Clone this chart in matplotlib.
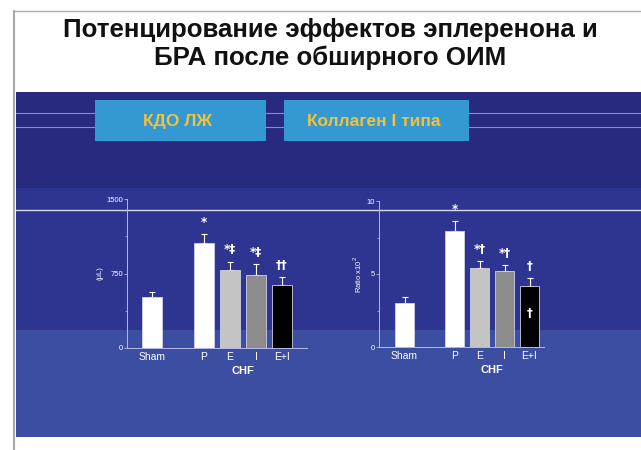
import numpy as np
import matplotlib
matplotlib.use('Agg')
import matplotlib.pyplot as plt
from matplotlib.patches import Rectangle
from matplotlib.lines import Line2D

plt.rcParams['font.family'] = ['Liberation Sans', 'DejaVu Sans']

W, H = 641, 450

# data
groups = ['Sham', 'P', 'E', 'I', 'E+I']
xpos = [0, 2, 3, 4, 5]
bar_colors = ['white', 'white', '#c4c4c4', '#8c8c8c', 'black']

kdo_vals = [516, 1060, 785, 735, 634]
kdo_err = [48, 85, 84, 110, 78]
kdo_marks = ['', '*', '*‡', '*‡', '††']

col_vals = [3.03, 7.95, 5.43, 5.23, 4.18]
col_err = [0.37, 0.70, 0.46, 0.37, 0.52]
col_marks = ['', '*', '*†', '*†', '†']

title_lines = ['Потенцирование эффектов эплеренона и', 'БРА после обширного ОИМ']
box_titles = ['КДО ЛЖ', 'Коллаген I типа']

fig = plt.figure(figsize=(W / 100, H / 100), dpi=100)
fig.patch.set_facecolor('white')


def fx(px):
    return px / W


def fy(py):
    return 1 - py / H


def rect(x0, y0, x1, y1, color, z=0):
    fig.patches.append(Rectangle((fx(x0), fy(y1)), fx(x1) - fx(x0), fy(y0) - fy(y1),
                                 transform=fig.transFigure, facecolor=color,
                                 edgecolor='none', zorder=z))


def hline(y, x0, x1, color, lw=1.0, z=1):
    fig.lines.append(Line2D([fx(x0), fx(x1)], [fy(y), fy(y)], transform=fig.transFigure,
                            color=color, lw=lw, zorder=z))


# slide frame
fig.lines.append(Line2D([fx(14), fx(14)], [fy(11), fy(450)], transform=fig.transFigure,
                        color='#a8a8a8', lw=1.5))
hline(11, 14, 641, '#b0b0b0', 1.0)

# title
fig.text(fx(330), fy(30), title_lines[0], ha='center', va='center', fontsize=18.6,
         fontweight='bold', color='#111111')
fig.text(fx(330), fy(58), title_lines[1], ha='center', va='center', fontsize=18.6,
         fontweight='bold', color='#111111')

# blue panel
rect(16, 92, 641, 188, '#272a7e')
rect(16, 188, 641, 330, '#2d3591')
rect(16, 330, 641, 437, '#3b4ea1')
hline(113, 16, 641, '#8a8ad0', 0.8)
hline(127, 16, 641, '#8a8ad0', 0.8)
hline(210, 16, 641, '#d8d8f0', 1.0, z=3)

# title boxes
for (x0, x1), txt in zip([(95, 266), (284, 469)], box_titles):
    rect(x0, 100, x1, 141, '#3499d2', z=2)
    fig.text(fx((x0 + x1) / 2 - 3), fy(121), txt, ha='center', va='center', fontsize=12.5,
             fontweight='bold', color='#f2c23c', zorder=4)


def draw_panel(ax_px, ylim, xlim, vals, errs, marks, yticks, ylabel, inner_mark=None):
    x0, x1, y0, ytop = ax_px
    ax = fig.add_axes([fx(x0), fy(y0), fx(x1) - fx(x0), fy(ytop) - fy(y0)])
    ax.set_zorder(5)
    ax.set_facecolor('none')
    ax.bar(xpos, vals, width=0.76, color=bar_colors, edgecolor='#d0d0e0', lw=0.6, zorder=3)
    ax.errorbar(xpos, vals, yerr=[np.zeros(len(vals)), errs], fmt='none', ecolor='white',
                elinewidth=0.8, capsize=2, capthick=0.8, zorder=2)
    for x, v, e, m in zip(xpos, vals, errs, marks):
        if m:
            ax.text(x, v + e + (ylim[1] * 0.035), m, ha='center', va='bottom', color='white',
                    fontsize=8.5, fontweight='bold', family=['DejaVu Sans'])
    if inner_mark is not None:
        ax.text(xpos[4], vals[4] * 0.55, inner_mark, ha='center', va='center', color='white',
                fontsize=8.5, fontweight='bold', zorder=4, family=['DejaVu Sans'])
    ax.set_xlim(*xlim)
    ax.set_ylim(*ylim)
    ax.set_yticks(yticks)
    ax.set_yticks([yticks[0] + (yticks[1] - yticks[0]) * k / 2 for k in range(5)], minor=True)
    ax.set_xticks(xpos)
    ax.set_xticklabels(groups)
    for s in ['top', 'right']:
        ax.spines[s].set_visible(False)
    for s in ['left', 'bottom']:
        ax.spines[s].set_color('#b8b8e8')
        ax.spines[s].set_linewidth(0.7)
    ax.tick_params(axis='y', colors='#b8b8e8', labelcolor='white', labelsize=5.5,
                   length=2, width=0.6, pad=1)
    ax.tick_params(axis='y', which='minor', colors='#b8b8e8', length=1.5, width=0.5)
    ax.tick_params(axis='x', length=0, labelcolor='white', labelsize=7.5, pad=3)
    ax.text(np.mean(xpos[1:]), -ylim[1] * 0.12, 'CHF', ha='center', va='top', color='white',
            fontsize=8, fontweight='bold')
    ax.set_ylabel(ylabel, color='white', fontsize=5.5, labelpad=2)
    return ax


draw_panel((127, 307, 348, 199), (0, 1500), (-0.96, 5.96), kdo_vals, kdo_err, kdo_marks,
           [0, 750, 1500], '(μL)')
draw_panel((379, 544, 347, 201), (0, 10), (-1.02, 5.58), col_vals, col_err, col_marks,
           [0, 5, 10], 'Ratio x10$^2$', inner_mark='†')

fig.savefig('out.png', dpi=100)
